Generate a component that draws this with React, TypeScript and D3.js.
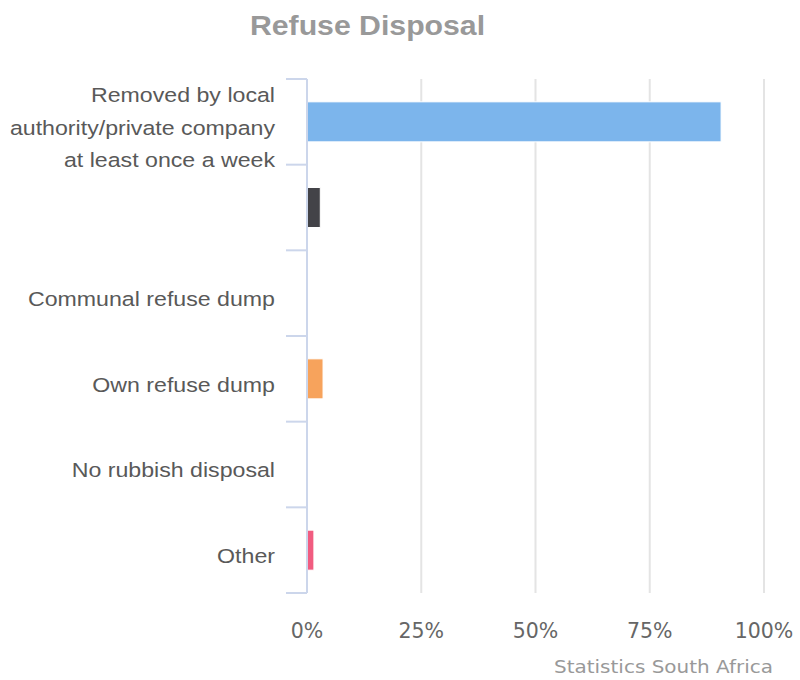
import React from "react";
import * as d3 from "d3";

// Share of households by refuse disposal method (%)
const categories: string[][] = [
  ["Removed by local", "authority/private company", "at least once a week"],
  [""],
  ["Communal refuse dump"],
  ["Own refuse dump"],
  ["No rubbish disposal"],
  ["Other"],
];
const values: number[] = [90.5, 2.8, 0, 3.4, 0, 1.4];
const colors: string[] = ["#7cb5ec", "#434348", "#90ed7d", "#f7a35c", "#8085e9", "#f15c80"];
const xTicks: number[] = [0, 25, 50, 75, 100];

const W = 800;
const H = 680;
const plotLeft = 307;
const plotRight = 764;
const plotTop = 79;
const plotBottom = 593;

export default function App() {
  const keys = categories.map((_, i) => String(i));
  const x = d3.scaleLinear().domain([0, 100]).range([plotLeft, plotRight]);
  const y = d3.scaleBand<string>().domain(keys).range([plotTop, plotBottom]).padding(0);
  const bw = y.bandwidth();
  const barH = bw * 0.467;
  const boundaries = keys.map((k) => y(k) as number).concat([plotBottom]);
  const labelFont = "'Liberation Sans', Arial, sans-serif";
  const tickFont = "'DejaVu Sans', Verdana, sans-serif";

  return (
    <svg
      width={W}
      height={H}
      style={{ position: "absolute", left: 0, top: 0, background: "#fff" }}
    >
      <rect x={0} y={0} width={W} height={H} fill="#fff" />

      {/* title */}
      <g transform={`translate(367.5,35) scale(1.08,1)`}>
        <text
          textAnchor="middle"
          fontFamily={labelFont}
          fontWeight="bold"
          fontSize={28}
          fill="#999999"
        >
          Refuse Disposal
        </text>
      </g>

      {/* vertical grid lines */}
      {xTicks.map((t) => (
        <line
          key={`g${t}`}
          x1={x(t)}
          x2={x(t)}
          y1={plotTop}
          y2={plotBottom}
          stroke="#e4e4e4"
          strokeWidth={2}
        />
      ))}

      {/* bars */}
      {values.map((v, i) => {
        const yc = (y(keys[i]) as number) + bw / 2;
        const w = x(v) - x(0);
        if (w <= 0) return null;
        return (
          <rect
            key={`b${i}`}
            x={x(0) + 0.5}
            y={yc - barH / 2}
            width={w}
            height={barH}
            fill={colors[i]}
            stroke="#ffffff"
            strokeWidth={1}
          />
        );
      })}

      {/* category axis */}
      <line
        x1={x(0)}
        x2={x(0)}
        y1={plotTop}
        y2={plotBottom}
        stroke="#ccd6eb"
        strokeWidth={2}
      />
      {boundaries.map((b, i) => (
        <line
          key={`t${i}`}
          x1={286}
          x2={x(0)}
          y1={b}
          y2={b}
          stroke="#ccd6eb"
          strokeWidth={2}
        />
      ))}

      {/* category labels */}
      {categories.map((lines, i) => {
        const yc = (y(keys[i]) as number) + bw / 2;
        const lh = 32.5;
        const first = yc + 13 - ((lines.length - 1) * lh) / 2;
        return (
          <g key={`l${i}`} transform={`translate(275,0) scale(1.13,1)`}>
            {lines.map((ln, j) => (
              <text
                key={j}
                x={0}
                y={first + j * lh}
                textAnchor="end"
                fontFamily={labelFont}
                fontSize={20.5}
                fill="#595959"
              >
                {ln}
              </text>
            ))}
          </g>
        );
      })}

      {/* value axis labels */}
      {xTicks.map((t) => (
        <text
          key={`x${t}`}
          x={x(t)}
          y={638}
          textAnchor="middle"
          fontFamily={tickFont}
          fontSize={20.5}
          fill="#666666"
        >
          {`${t}%`}
        </text>
      ))}

      {/* credit */}
      <text
        x={773}
        y={673}
        textAnchor="end"
        fontFamily={tickFont}
        fontSize={17}
        fill="#999999"
        textLength={219}
        lengthAdjust="spacingAndGlyphs"
      >
        Statistics South Africa
      </text>
    </svg>
  );
}
